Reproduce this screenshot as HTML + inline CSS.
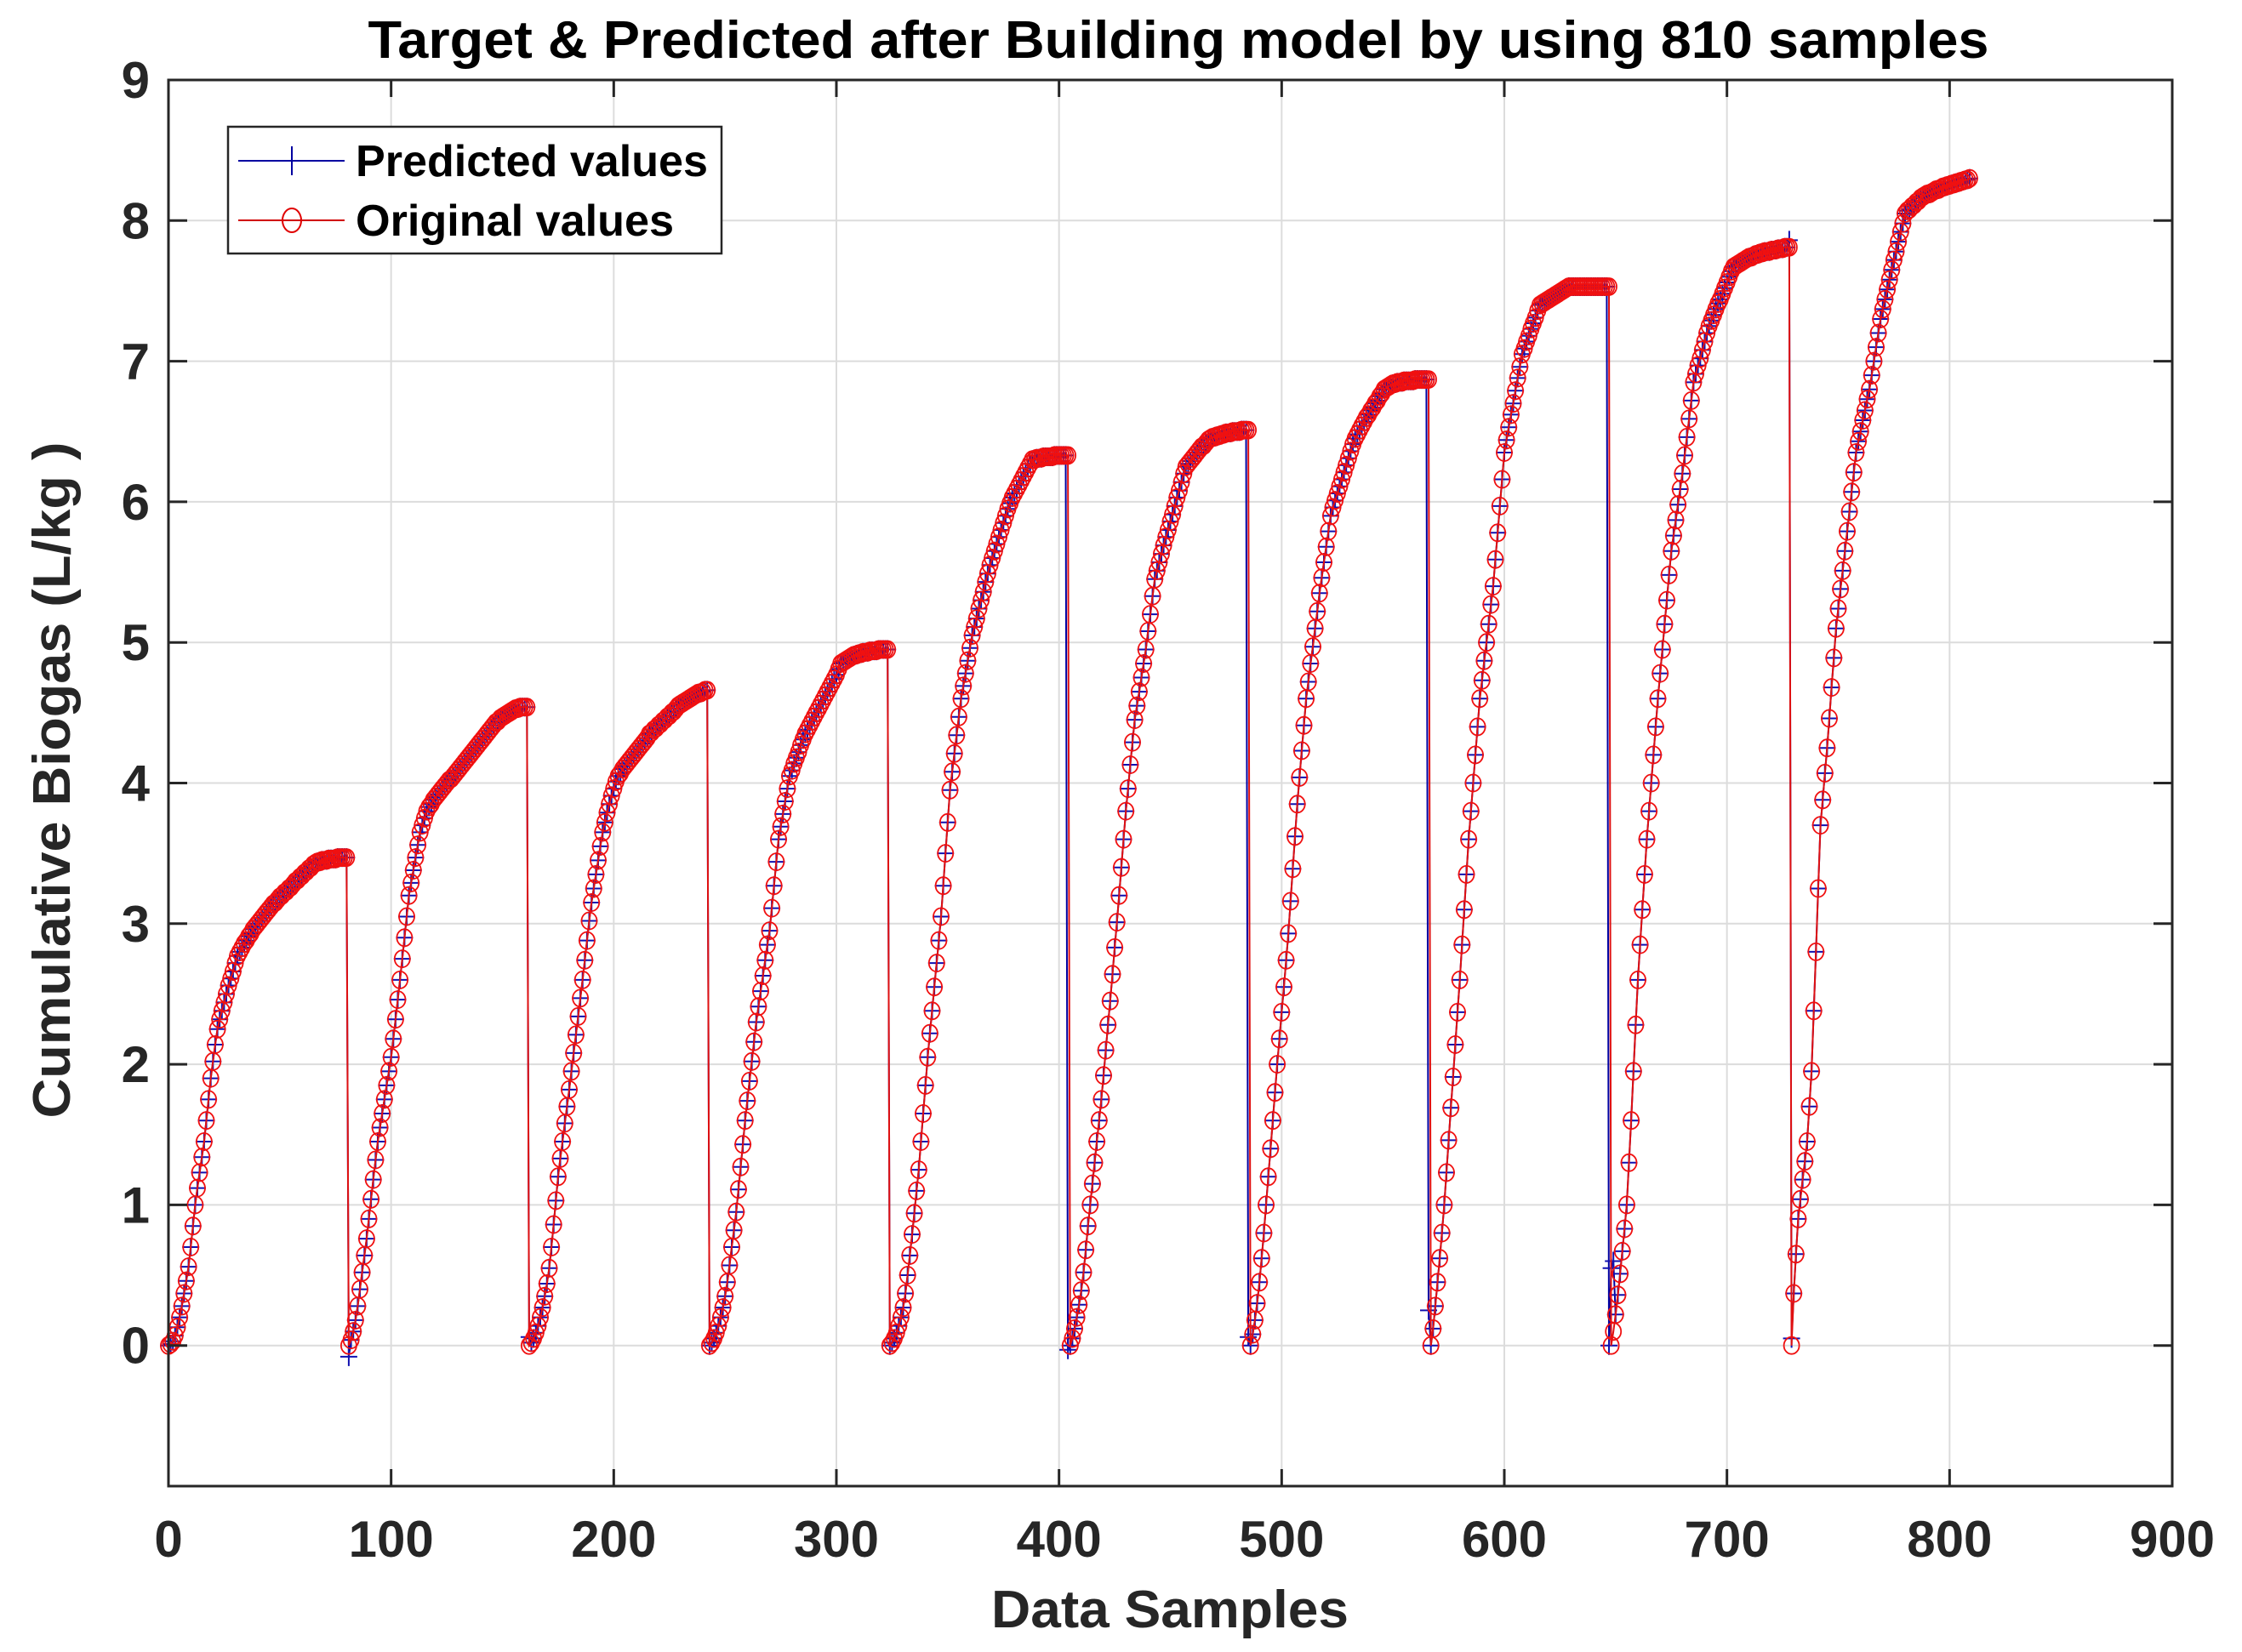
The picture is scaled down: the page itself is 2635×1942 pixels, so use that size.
<!DOCTYPE html>
<html><head><meta charset="utf-8"><style>
html,body{margin:0;padding:0;background:#fff;}
svg{display:block;font-family:"Liberation Sans",Arial,sans-serif;font-weight:bold;}
</style></head><body>
<svg id="chart" width="2635" height="1942" viewBox="0 0 2635 1942" xmlns="http://www.w3.org/2000/svg">
<rect x="0" y="0" width="2635" height="1942" fill="#fff"/>
<g id="grid"></g>
<g id="series-pred"></g>
<g id="series-orig"></g>
<rect x="198" y="94" width="2355" height="1653" fill="none" stroke="#262626" stroke-width="3"/>
<g id="ticks"></g>
<text x="1385" y="68" text-anchor="middle" font-size="62" textLength="1905" lengthAdjust="spacingAndGlyphs" fill="#000">Target &amp; Predicted after Building model by using 810 samples</text>
<text x="1375" y="1913" text-anchor="middle" font-size="62" textLength="420" lengthAdjust="spacingAndGlyphs" fill="#262626">Data Samples</text>
<text transform="translate(82,917) rotate(-90)" text-anchor="middle" font-size="62" textLength="795" lengthAdjust="spacingAndGlyphs" fill="#262626">Cumulative Biogas (L/kg )</text>
<g>
<rect x="268" y="149" width="580" height="149" fill="#fff" stroke="#262626" stroke-width="2.5"/>
<g>
<line x1="280" y1="189" x2="405" y2="189" stroke="#0000a0" stroke-width="2"/>
<line x1="343" y1="172" x2="343" y2="206" stroke="#0000a0" stroke-width="2"/>
<text x="418" y="207" font-size="52" textLength="414" lengthAdjust="spacingAndGlyphs" fill="#000">Predicted values</text>
</g>
<g>
<line x1="280" y1="259" x2="405" y2="259" stroke="#d00000" stroke-width="2"/>
<ellipse cx="343" cy="259" rx="11" ry="14" fill="none" stroke="#e00000" stroke-width="2"/>
<text x="418" y="277" font-size="52" textLength="374" lengthAdjust="spacingAndGlyphs" fill="#000">Original values</text>
</g>
</g>
</svg>
<script>
const xTicks=[0,100,200,300,400,500,600,700,800,900];
const yTicks=[0,1,2,3,4,5,6,7,8,9];
const seg0=[0.00,0.01,0.03,0.07,0.13,0.20,0.28,0.37,0.46,0.56,0.70,0.85,1.00,1.12,1.23,1.34,1.45,1.60,1.75,1.90,2.02,2.14,2.25,2.32,2.38,2.44,2.50,2.56,2.61,2.66,2.72,2.77,2.80,2.83,2.86,2.88,2.91,2.93,2.96,2.98,3.00,3.02,3.04,3.06,3.08,3.10,3.12,3.14,3.15,3.17,3.19,3.20,3.22,3.23,3.25,3.26,3.28,3.30,3.31,3.33,3.34,3.36,3.37,3.39,3.40,3.42,3.43,3.44,3.44,3.45,3.45,3.45,3.46,3.46,3.46,3.46,3.47,3.47,3.47,3.47,3.47];
const seg1=[0.00,0.04,0.10,0.18,0.28,0.40,0.52,0.64,0.76,0.90,1.04,1.18,1.32,1.45,1.55,1.65,1.75,1.85,1.95,2.05,2.18,2.32,2.46,2.60,2.75,2.90,3.05,3.20,3.29,3.38,3.47,3.56,3.65,3.70,3.75,3.80,3.83,3.85,3.88,3.90,3.92,3.94,3.96,3.98,4.00,4.02,4.03,4.05,4.07,4.09,4.11,4.13,4.15,4.17,4.19,4.21,4.23,4.25,4.27,4.29,4.31,4.33,4.35,4.37,4.39,4.41,4.43,4.44,4.46,4.47,4.48,4.49,4.50,4.51,4.52,4.53,4.53,4.54,4.54,4.54,4.54];
const seg2=[0.00,0.02,0.05,0.09,0.14,0.20,0.27,0.35,0.44,0.55,0.70,0.86,1.03,1.20,1.33,1.45,1.58,1.70,1.82,1.95,2.08,2.21,2.34,2.47,2.60,2.74,2.88,3.02,3.15,3.25,3.35,3.45,3.55,3.65,3.72,3.79,3.85,3.91,3.96,4.01,4.05,4.07,4.10,4.12,4.14,4.16,4.18,4.20,4.22,4.24,4.26,4.28,4.30,4.32,4.35,4.36,4.38,4.39,4.41,4.42,4.44,4.45,4.47,4.48,4.50,4.51,4.53,4.55,4.56,4.57,4.58,4.59,4.60,4.61,4.62,4.63,4.64,4.64,4.65,4.66,4.66];
const seg3=[0.00,0.02,0.05,0.09,0.14,0.20,0.27,0.35,0.45,0.57,0.70,0.82,0.95,1.11,1.27,1.43,1.60,1.74,1.88,2.02,2.16,2.30,2.41,2.52,2.63,2.74,2.85,2.95,3.11,3.27,3.44,3.60,3.69,3.78,3.87,3.96,4.05,4.09,4.14,4.18,4.22,4.27,4.31,4.35,4.38,4.41,4.44,4.47,4.50,4.53,4.56,4.59,4.62,4.65,4.68,4.71,4.74,4.77,4.81,4.85,4.86,4.87,4.88,4.89,4.90,4.91,4.91,4.92,4.92,4.93,4.93,4.93,4.94,4.94,4.94,4.94,4.95,4.95,4.95,4.95,4.95];
const seg4=[0.00,0.02,0.05,0.09,0.14,0.20,0.27,0.37,0.50,0.64,0.79,0.94,1.10,1.25,1.45,1.65,1.85,2.05,2.22,2.38,2.55,2.72,2.88,3.05,3.27,3.50,3.72,3.95,4.08,4.21,4.34,4.47,4.60,4.69,4.78,4.87,4.96,5.05,5.11,5.17,5.24,5.30,5.36,5.43,5.49,5.55,5.60,5.65,5.70,5.75,5.80,5.85,5.90,5.95,5.99,6.03,6.06,6.09,6.12,6.15,6.18,6.21,6.24,6.27,6.30,6.30,6.31,6.31,6.31,6.32,6.32,6.32,6.32,6.32,6.33,6.33,6.33,6.33,6.33,6.33,6.33];
const seg5=[0.00,0.05,0.12,0.20,0.29,0.39,0.52,0.68,0.85,1.00,1.15,1.30,1.45,1.60,1.75,1.92,2.10,2.28,2.45,2.64,2.83,3.01,3.20,3.40,3.60,3.80,3.96,4.13,4.29,4.45,4.55,4.65,4.75,4.85,4.95,5.08,5.20,5.33,5.45,5.51,5.57,5.63,5.69,5.75,5.80,5.86,5.91,5.97,6.03,6.08,6.14,6.20,6.25,6.27,6.29,6.31,6.33,6.35,6.37,6.39,6.40,6.42,6.44,6.45,6.46,6.46,6.47,6.47,6.48,6.48,6.49,6.49,6.49,6.50,6.50,6.50,6.50,6.51,6.51,6.51,6.51];
const seg6=[0.00,0.08,0.18,0.30,0.45,0.62,0.80,1.00,1.20,1.40,1.60,1.80,2.00,2.18,2.37,2.55,2.74,2.93,3.16,3.39,3.62,3.85,4.04,4.23,4.41,4.60,4.72,4.85,4.97,5.10,5.22,5.35,5.46,5.57,5.68,5.79,5.90,5.96,6.01,6.06,6.11,6.16,6.21,6.26,6.31,6.36,6.41,6.45,6.48,6.51,6.54,6.57,6.60,6.62,6.65,6.67,6.70,6.72,6.75,6.77,6.80,6.81,6.82,6.83,6.84,6.84,6.85,6.85,6.85,6.86,6.86,6.86,6.86,6.86,6.87,6.87,6.87,6.87,6.87,6.87,6.87];
const seg7=[0.00,0.12,0.28,0.45,0.62,0.80,1.00,1.23,1.46,1.69,1.91,2.14,2.37,2.60,2.85,3.10,3.35,3.60,3.80,4.00,4.20,4.40,4.60,4.73,4.87,5.00,5.13,5.27,5.40,5.59,5.78,5.97,6.16,6.35,6.44,6.53,6.62,6.70,6.79,6.88,6.96,7.05,7.09,7.14,7.18,7.23,7.27,7.31,7.36,7.40,7.41,7.42,7.43,7.44,7.45,7.46,7.47,7.48,7.49,7.50,7.51,7.52,7.53,7.53,7.53,7.53,7.53,7.53,7.53,7.53,7.53,7.53,7.53,7.53,7.53,7.53,7.53,7.53,7.53,7.53,7.53];
const seg8=[0.00,0.10,0.22,0.36,0.51,0.67,0.83,1.00,1.30,1.60,1.95,2.28,2.60,2.85,3.10,3.35,3.60,3.80,4.00,4.20,4.40,4.60,4.78,4.95,5.13,5.30,5.48,5.65,5.76,5.87,5.98,6.09,6.20,6.33,6.46,6.59,6.72,6.85,6.91,6.97,7.02,7.08,7.14,7.20,7.25,7.29,7.33,7.37,7.41,7.44,7.48,7.52,7.56,7.60,7.64,7.67,7.68,7.69,7.70,7.71,7.72,7.73,7.74,7.74,7.75,7.76,7.76,7.77,7.77,7.78,7.78,7.78,7.79,7.79,7.79,7.80,7.80,7.80,7.81,7.81,7.81];
const seg9=[0.00,0.37,0.65,0.90,1.04,1.18,1.31,1.45,1.70,1.95,2.38,2.80,3.25,3.70,3.88,4.07,4.25,4.46,4.68,4.89,5.10,5.24,5.38,5.51,5.65,5.79,5.93,6.07,6.21,6.35,6.43,6.50,6.58,6.65,6.73,6.80,6.90,7.00,7.10,7.20,7.30,7.37,7.44,7.51,7.58,7.65,7.72,7.78,7.85,7.92,7.98,8.05,8.07,8.08,8.10,8.11,8.13,8.14,8.16,8.17,8.18,8.19,8.19,8.20,8.21,8.22,8.22,8.23,8.24,8.24,8.25,8.25,8.26,8.26,8.27,8.27,8.28,8.28,8.29,8.29,8.30];
const original=[].concat(seg0,seg1,seg2,seg3,seg4,seg5,seg6,seg7,seg8,seg9);
const predictedIdx=[81,162,404,485,566,647,648,649,728,729];
const predictedVal=[-0.08,0.06,-0.03,0.06,0.25,0.00,0.55,0.60,7.86,0.05];

const NS="http://www.w3.org/2000/svg";
const X0=198,X1=2553,Y0=1747,Y1=94;
function xs(v){return X0+(v-0)/(900-0)*(X1-X0);}
function ys(v){return Y0-(v-(-1))/(9-(-1))*(Y0-Y1);}
function mk(tag,attrs,parent){const e=document.createElementNS(NS,tag);for(const k in attrs)e.setAttribute(k,attrs[k]);parent.appendChild(e);return e;}

const predicted=original.slice();
for(let i=0;i<predictedIdx.length;i++){predicted[predictedIdx[i]]=predictedVal[i];}

const grid=document.getElementById('grid');
const ticks=document.getElementById('ticks');
xTicks.forEach(t=>{
  const x=xs(t);
  const g=mk('line',{x1:x,y1:Y1,x2:x,y2:Y0,stroke:'#dcdcdc','stroke-width':2},grid);
  
  
  const a=mk('line',{x1:x,y1:Y0,x2:x,y2:Y0-20,stroke:'#262626','stroke-width':3},ticks);
  
  
  const b=mk('line',{x1:x,y1:Y1,x2:x,y2:Y1+20,stroke:'#262626','stroke-width':3},ticks);
  
  
  const l=mk('text',{x:x,y:1830,'text-anchor':'middle','font-size':60,fill:'#262626'},ticks);
  
  
  l.textContent=String(t);
});
yTicks.forEach(t=>{
  const y=ys(t);
  const g=mk('line',{x1:X0,y1:y,x2:X1,y2:y,stroke:'#dcdcdc','stroke-width':2},grid);
  
  
  const a=mk('line',{x1:X0,y1:y,x2:X0+22,y2:y,stroke:'#262626','stroke-width':3},ticks);
  
  
  const b=mk('line',{x1:X1,y1:y,x2:X1-22,y2:y,stroke:'#262626','stroke-width':3},ticks);
  
  
  const l=mk('text',{x:176,y:y+21,'text-anchor':'end','font-size':60,fill:'#262626'},ticks);
  
  
  l.textContent=String(t);
});

const sp=document.getElementById('series-pred');
const so=document.getElementById('series-orig');
function poly(arr){return arr.map((v,i)=>xs(i).toFixed(1)+','+ys(v).toFixed(1)).join(' ');}
const pl=mk('polyline',{points:poly(predicted),fill:'none',stroke:'#0000a0','stroke-width':2},sp);


let dp='';
predicted.forEach((v,i)=>{const x=xs(i),y=ys(v);dp+='M'+(x-10).toFixed(1)+' '+y.toFixed(1)+'h20M'+x.toFixed(1)+' '+(y-11).toFixed(1)+'v22';});
const pm=mk('path',{d:dp,fill:'none',stroke:'#1010b0','stroke-width':2},sp);


const ol=mk('polyline',{points:poly(original),fill:'none',stroke:'#e01010','stroke-width':2},so);


original.forEach((v,i)=>{
  const c=mk('ellipse',{cx:xs(i).toFixed(1),cy:ys(v).toFixed(1),rx:9,ry:10,fill:'none',stroke:'#f01010','stroke-width':1.8},so);
  
  
});
</script>
</body></html>
